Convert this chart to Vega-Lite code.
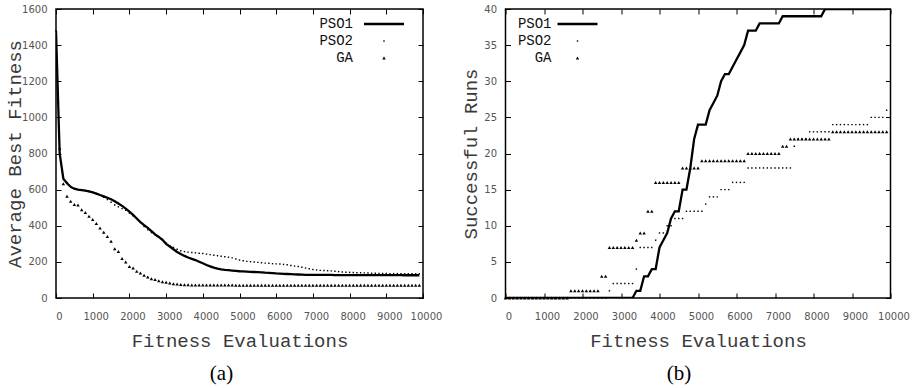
{
"$schema": "https://vega.github.io/schema/vega-lite/v6.json",
"padding": {"left": 4, "top": 3, "right": 0, "bottom": 0},
"config": {
  "view": {"stroke": "black", "strokeWidth": 1.5},
  "axis": {"labelFont": "DejaVu Sans", "labelFontSize": 10, "labelColor": "#555", "titleFont": "Liberation Mono", "titleFontSize": 19, "titleFontWeight": "normal", "titleColor": "#3a3a3a", "domain": false, "grid": false, "tickColor": "black", "tickSize": -5, "tickWidth": 1, "labelFlush": false, "labelOverlap": false, "format": "d"},
  "legend": {"labelFont": "Liberation Mono", "labelFontSize": 14, "labelColor": "#111", "labelAlign": "right", "padding": 0, "rowPadding": 3},
  "title": {"font": "Liberation Serif", "fontSize": 21, "fontWeight": "normal", "color": "black"}
},
"datasets": {
"a": [
{"e":0,"PSO1":1480,"PSO2":1480,"GA":null},
{"e":100,"PSO1":800,"PSO2":820,"GA":830},
{"e":200,"PSO1":660,"PSO2":680,"GA":633},
{"e":300,"PSO1":635,"PSO2":640,"GA":563},
{"e":400,"PSO1":615,"PSO2":615,"GA":535},
{"e":500,"PSO1":605,"PSO2":605,"GA":517},
{"e":600,"PSO1":600,"PSO2":600,"GA":515},
{"e":700,"PSO1":597,"PSO2":597,"GA":489},
{"e":800,"PSO1":594,"PSO2":594,"GA":474},
{"e":900,"PSO1":590,"PSO2":590,"GA":452},
{"e":1000,"PSO1":585,"PSO2":585,"GA":434},
{"e":1100,"PSO1":578,"PSO2":578,"GA":412},
{"e":1200,"PSO1":570,"PSO2":568,"GA":388},
{"e":1300,"PSO1":563,"PSO2":558,"GA":364},
{"e":1400,"PSO1":555,"PSO2":545,"GA":341},
{"e":1500,"PSO1":547,"PSO2":530,"GA":314},
{"e":1600,"PSO1":536,"PSO2":515,"GA":273},
{"e":1700,"PSO1":523,"PSO2":505,"GA":258},
{"e":1800,"PSO1":510,"PSO2":495,"GA":218},
{"e":1900,"PSO1":495,"PSO2":485,"GA":199},
{"e":2000,"PSO1":478,"PSO2":470,"GA":175},
{"e":2100,"PSO1":460,"PSO2":455,"GA":166},
{"e":2200,"PSO1":440,"PSO2":440,"GA":148},
{"e":2300,"PSO1":420,"PSO2":420,"GA":138},
{"e":2400,"PSO1":403,"PSO2":395,"GA":126},
{"e":2500,"PSO1":388,"PSO2":377,"GA":116},
{"e":2600,"PSO1":370,"PSO2":362,"GA":107},
{"e":2700,"PSO1":352,"PSO2":350,"GA":102},
{"e":2800,"PSO1":338,"PSO2":340,"GA":96},
{"e":2900,"PSO1":322,"PSO2":325,"GA":90},
{"e":3000,"PSO1":300,"PSO2":305,"GA":87},
{"e":3100,"PSO1":285,"PSO2":290,"GA":83},
{"e":3200,"PSO1":270,"PSO2":280,"GA":79},
{"e":3300,"PSO1":255,"PSO2":270,"GA":77},
{"e":3400,"PSO1":243,"PSO2":262,"GA":75},
{"e":3500,"PSO1":233,"PSO2":257,"GA":74},
{"e":3600,"PSO1":224,"PSO2":254,"GA":73},
{"e":3700,"PSO1":217,"PSO2":252,"GA":72},
{"e":3800,"PSO1":210,"PSO2":250,"GA":72},
{"e":3900,"PSO1":201,"PSO2":248,"GA":72},
{"e":4000,"PSO1":192,"PSO2":246,"GA":72},
{"e":4100,"PSO1":183,"PSO2":243,"GA":72},
{"e":4200,"PSO1":175,"PSO2":240,"GA":72},
{"e":4300,"PSO1":168,"PSO2":237,"GA":72},
{"e":4400,"PSO1":163,"PSO2":234,"GA":72},
{"e":4500,"PSO1":159,"PSO2":231,"GA":72},
{"e":4600,"PSO1":156,"PSO2":228,"GA":72},
{"e":4700,"PSO1":154,"PSO2":226,"GA":72},
{"e":4800,"PSO1":152,"PSO2":222,"GA":72},
{"e":4900,"PSO1":150,"PSO2":216,"GA":71},
{"e":5000,"PSO1":148,"PSO2":210,"GA":71},
{"e":5100,"PSO1":147,"PSO2":206,"GA":71},
{"e":5200,"PSO1":146,"PSO2":203,"GA":71},
{"e":5300,"PSO1":145,"PSO2":201,"GA":71},
{"e":5400,"PSO1":144,"PSO2":199,"GA":71},
{"e":5500,"PSO1":143,"PSO2":197,"GA":71},
{"e":5600,"PSO1":142,"PSO2":195,"GA":71},
{"e":5700,"PSO1":140,"PSO2":193,"GA":71},
{"e":5800,"PSO1":139,"PSO2":192,"GA":71},
{"e":5900,"PSO1":138,"PSO2":190,"GA":71},
{"e":6000,"PSO1":136,"PSO2":189,"GA":71},
{"e":6100,"PSO1":135,"PSO2":188,"GA":71},
{"e":6200,"PSO1":134,"PSO2":186,"GA":71},
{"e":6300,"PSO1":133,"PSO2":184,"GA":71},
{"e":6400,"PSO1":132,"PSO2":180,"GA":71},
{"e":6500,"PSO1":131,"PSO2":177,"GA":71},
{"e":6600,"PSO1":130,"PSO2":174,"GA":70},
{"e":6700,"PSO1":129,"PSO2":170,"GA":70},
{"e":6800,"PSO1":128,"PSO2":166,"GA":70},
{"e":6900,"PSO1":128,"PSO2":162,"GA":70},
{"e":7000,"PSO1":128,"PSO2":158,"GA":70},
{"e":7100,"PSO1":128,"PSO2":155,"GA":70},
{"e":7200,"PSO1":128,"PSO2":153,"GA":70},
{"e":7300,"PSO1":128,"PSO2":152,"GA":70},
{"e":7400,"PSO1":128,"PSO2":151,"GA":70},
{"e":7500,"PSO1":128,"PSO2":150,"GA":70},
{"e":7600,"PSO1":127,"PSO2":148,"GA":70},
{"e":7700,"PSO1":127,"PSO2":146,"GA":70},
{"e":7800,"PSO1":127,"PSO2":144,"GA":70},
{"e":7900,"PSO1":127,"PSO2":143,"GA":70},
{"e":8000,"PSO1":127,"PSO2":142,"GA":70},
{"e":8100,"PSO1":127,"PSO2":141,"GA":70},
{"e":8200,"PSO1":127,"PSO2":140,"GA":70},
{"e":8300,"PSO1":127,"PSO2":140,"GA":70},
{"e":8400,"PSO1":127,"PSO2":139,"GA":70},
{"e":8500,"PSO1":127,"PSO2":138,"GA":70},
{"e":8600,"PSO1":127,"PSO2":137,"GA":70},
{"e":8700,"PSO1":127,"PSO2":137,"GA":70},
{"e":8800,"PSO1":127,"PSO2":136,"GA":70},
{"e":8900,"PSO1":127,"PSO2":136,"GA":70},
{"e":9000,"PSO1":127,"PSO2":136,"GA":70},
{"e":9100,"PSO1":127,"PSO2":135,"GA":70},
{"e":9200,"PSO1":127,"PSO2":135,"GA":70},
{"e":9300,"PSO1":127,"PSO2":135,"GA":70},
{"e":9400,"PSO1":127,"PSO2":135,"GA":70},
{"e":9500,"PSO1":126,"PSO2":134,"GA":70},
{"e":9600,"PSO1":126,"PSO2":134,"GA":70},
{"e":9700,"PSO1":126,"PSO2":134,"GA":70},
{"e":9800,"PSO1":126,"PSO2":134,"GA":70},
{"e":9900,"PSO1":126,"PSO2":134,"GA":70}
],
"b": [
{"e":0,"PSO1":0,"PSO2":0,"GA":0},
{"e":100,"PSO1":0,"PSO2":0,"GA":0},
{"e":200,"PSO1":0,"PSO2":0,"GA":0},
{"e":300,"PSO1":0,"PSO2":0,"GA":0},
{"e":400,"PSO1":0,"PSO2":0,"GA":0},
{"e":500,"PSO1":0,"PSO2":0,"GA":0},
{"e":600,"PSO1":0,"PSO2":0,"GA":0},
{"e":700,"PSO1":0,"PSO2":0,"GA":0},
{"e":800,"PSO1":0,"PSO2":0,"GA":0},
{"e":900,"PSO1":0,"PSO2":0,"GA":0},
{"e":1000,"PSO1":0,"PSO2":0,"GA":0},
{"e":1100,"PSO1":0,"PSO2":0,"GA":0},
{"e":1200,"PSO1":0,"PSO2":0,"GA":0},
{"e":1300,"PSO1":0,"PSO2":0,"GA":0},
{"e":1400,"PSO1":0,"PSO2":0,"GA":0},
{"e":1500,"PSO1":0,"PSO2":0,"GA":0},
{"e":1600,"PSO1":0,"PSO2":0,"GA":0},
{"e":1700,"PSO1":0,"PSO2":0,"GA":1},
{"e":1800,"PSO1":0,"PSO2":0,"GA":1},
{"e":1900,"PSO1":0,"PSO2":0,"GA":1},
{"e":2000,"PSO1":0,"PSO2":0,"GA":1},
{"e":2100,"PSO1":0,"PSO2":0,"GA":1},
{"e":2200,"PSO1":0,"PSO2":0,"GA":1},
{"e":2300,"PSO1":0,"PSO2":0,"GA":1},
{"e":2400,"PSO1":0,"PSO2":0,"GA":1},
{"e":2500,"PSO1":0,"PSO2":0,"GA":3},
{"e":2600,"PSO1":0,"PSO2":0,"GA":3},
{"e":2700,"PSO1":0,"PSO2":1,"GA":7},
{"e":2800,"PSO1":0,"PSO2":2,"GA":7},
{"e":2900,"PSO1":0,"PSO2":2,"GA":7},
{"e":3000,"PSO1":0,"PSO2":2,"GA":7},
{"e":3100,"PSO1":0,"PSO2":2,"GA":7},
{"e":3200,"PSO1":0,"PSO2":2,"GA":7},
{"e":3300,"PSO1":0,"PSO2":2,"GA":7},
{"e":3400,"PSO1":1,"PSO2":4,"GA":8},
{"e":3500,"PSO1":1,"PSO2":7,"GA":9},
{"e":3600,"PSO1":3,"PSO2":7,"GA":9},
{"e":3700,"PSO1":3,"PSO2":7,"GA":12},
{"e":3800,"PSO1":4,"PSO2":7,"GA":12},
{"e":3900,"PSO1":4,"PSO2":8,"GA":16},
{"e":4000,"PSO1":7,"PSO2":9,"GA":16},
{"e":4100,"PSO1":8,"PSO2":9,"GA":16},
{"e":4200,"PSO1":9,"PSO2":10,"GA":16},
{"e":4300,"PSO1":11,"PSO2":10,"GA":16},
{"e":4400,"PSO1":12,"PSO2":11,"GA":16},
{"e":4500,"PSO1":12,"PSO2":11,"GA":16},
{"e":4600,"PSO1":15,"PSO2":11,"GA":18},
{"e":4700,"PSO1":15,"PSO2":12,"GA":18},
{"e":4800,"PSO1":18,"PSO2":12,"GA":18},
{"e":4900,"PSO1":22,"PSO2":12,"GA":18},
{"e":5000,"PSO1":24,"PSO2":12,"GA":18},
{"e":5100,"PSO1":24,"PSO2":12,"GA":19},
{"e":5200,"PSO1":24,"PSO2":13,"GA":19},
{"e":5300,"PSO1":26,"PSO2":14,"GA":19},
{"e":5400,"PSO1":27,"PSO2":14,"GA":19},
{"e":5500,"PSO1":28,"PSO2":14,"GA":19},
{"e":5600,"PSO1":30,"PSO2":15,"GA":19},
{"e":5700,"PSO1":31,"PSO2":15,"GA":19},
{"e":5800,"PSO1":31,"PSO2":15,"GA":19},
{"e":5900,"PSO1":32,"PSO2":16,"GA":19},
{"e":6000,"PSO1":33,"PSO2":16,"GA":19},
{"e":6100,"PSO1":34,"PSO2":16,"GA":19},
{"e":6200,"PSO1":35,"PSO2":16,"GA":19},
{"e":6300,"PSO1":37,"PSO2":18,"GA":20},
{"e":6400,"PSO1":37,"PSO2":18,"GA":20},
{"e":6500,"PSO1":37,"PSO2":18,"GA":20},
{"e":6600,"PSO1":38,"PSO2":18,"GA":20},
{"e":6700,"PSO1":38,"PSO2":18,"GA":20},
{"e":6800,"PSO1":38,"PSO2":18,"GA":20},
{"e":6900,"PSO1":38,"PSO2":18,"GA":20},
{"e":7000,"PSO1":38,"PSO2":18,"GA":20},
{"e":7100,"PSO1":38,"PSO2":18,"GA":20},
{"e":7200,"PSO1":39,"PSO2":18,"GA":21},
{"e":7300,"PSO1":39,"PSO2":18,"GA":21},
{"e":7400,"PSO1":39,"PSO2":18,"GA":22},
{"e":7500,"PSO1":39,"PSO2":21,"GA":22},
{"e":7600,"PSO1":39,"PSO2":22,"GA":22},
{"e":7700,"PSO1":39,"PSO2":22,"GA":22},
{"e":7800,"PSO1":39,"PSO2":22,"GA":22},
{"e":7900,"PSO1":39,"PSO2":23,"GA":22},
{"e":8000,"PSO1":39,"PSO2":23,"GA":22},
{"e":8100,"PSO1":39,"PSO2":23,"GA":22},
{"e":8200,"PSO1":39,"PSO2":23,"GA":22},
{"e":8300,"PSO1":40,"PSO2":23,"GA":22},
{"e":8400,"PSO1":40,"PSO2":23,"GA":22},
{"e":8500,"PSO1":40,"PSO2":24,"GA":23},
{"e":8600,"PSO1":40,"PSO2":24,"GA":23},
{"e":8700,"PSO1":40,"PSO2":24,"GA":23},
{"e":8800,"PSO1":40,"PSO2":24,"GA":23},
{"e":8900,"PSO1":40,"PSO2":24,"GA":23},
{"e":9000,"PSO1":40,"PSO2":24,"GA":23},
{"e":9100,"PSO1":40,"PSO2":24,"GA":23},
{"e":9200,"PSO1":40,"PSO2":24,"GA":23},
{"e":9300,"PSO1":40,"PSO2":24,"GA":23},
{"e":9400,"PSO1":40,"PSO2":24,"GA":23},
{"e":9500,"PSO1":40,"PSO2":25,"GA":23},
{"e":9600,"PSO1":40,"PSO2":25,"GA":23},
{"e":9700,"PSO1":40,"PSO2":25,"GA":23},
{"e":9800,"PSO1":40,"PSO2":25,"GA":23},
{"e":9900,"PSO1":40,"PSO2":26,"GA":23}
]
},
"spacing": 17.5,
"resolve": {"scale": {"x": "independent", "y": "independent", "shape": "independent", "size": "independent"}, "legend": {"shape": "independent", "size": "independent"}},
"hconcat": [
{
  "width": 367, "height": 289,
  "title": {"text": "(a)", "orient": "bottom", "anchor": "middle", "offset": 13, "dx": -18},
  "data": {"name": "a"},
  "resolve": {"axis": {"x": "independent", "y": "independent"}},
  "layer": [
    {
      "mark": {"type": "line", "color": "black", "strokeWidth": 2.3, "clip": true},
      "encoding": {
        "x": {"field": "e", "type": "quantitative", "scale": {"domain": [0, 10000], "nice": false},
              "axis": {"orient": "bottom", "values": [0,1000,2000,3000,4000,5000,6000,7000,8000,9000,10000], "labelPadding": 18, "labelOffset": 3, "title": "Fitness Evaluations", "titlePadding": 10}},
        "y": {"field": "PSO1", "type": "quantitative", "scale": {"domain": [0, 1600], "nice": false},
              "axis": {"orient": "left", "values": [0,200,400,600,800,1000,1200,1400,1600], "labelPadding": 14, "title": "Average Best Fitness", "titlePadding": -3}}
      }
    },
    {
      "transform": [{"fold": ["PSO2", "GA"], "as": ["series", "val"]}],
      "mark": {"type": "point", "filled": true, "color": "black", "opacity": 1},
      "encoding": {
        "x": {"field": "e", "type": "quantitative", "scale": {"domain": [0, 10000], "nice": false},
              "axis": {"orient": "top", "values": [0,1000,2000,3000,4000,5000,6000,7000,8000,9000,10000], "labels": false, "title": null}},
        "y": {"field": "val", "type": "quantitative", "scale": {"domain": [0, 1600], "nice": false},
              "axis": {"orient": "right", "values": [0,200,400,600,800,1000,1200,1400,1600], "labels": false, "title": null}},
        "shape": {"field": "series", "type": "nominal", "scale": {"type": "ordinal", "domain": ["PSO1", "PSO2", "GA"], "range": ["M-4,-0.23H4V0.23H-4Z", "square", "triangle-up"]},
                  "legend": {"title": null, "orient": "none", "legendX": 321, "legendY": 8, "labelOffset": -38}},
        "size": {"field": "series", "type": "nominal", "scale": {"type": "ordinal", "domain": ["PSO1", "PSO2", "GA"], "range": [100, 2, 12]},
                 "legend": {"title": null, "orient": "none", "legendX": 321, "legendY": 8, "labelOffset": -38}}
      }
    }
  ]
},
{
  "width": 385, "height": 289,
  "title": {"text": "(b)", "orient": "bottom", "anchor": "middle", "offset": 13, "dx": -19},
  "data": {"name": "b"},
  "resolve": {"axis": {"x": "independent", "y": "independent"}},
  "layer": [
    {
      "mark": {"type": "line", "color": "black", "strokeWidth": 2.3, "clip": true},
      "encoding": {
        "x": {"field": "e", "type": "quantitative", "scale": {"domain": [0, 10000], "nice": false},
              "axis": {"orient": "bottom", "values": [0,1000,2000,3000,4000,5000,6000,7000,8000,9000,10000], "labelPadding": 18, "labelOffset": 3, "title": "Fitness Evaluations", "titlePadding": 10}},
        "y": {"field": "PSO1", "type": "quantitative", "scale": {"domain": [0, 40], "nice": false},
              "axis": {"orient": "left", "values": [0,5,10,15,20,25,30,35,40], "labelPadding": 14, "title": "Successful Runs", "titlePadding": 3}}
      }
    },
    {
      "transform": [{"fold": ["PSO2", "GA"], "as": ["series", "val"]}],
      "mark": {"type": "point", "filled": true, "color": "black", "opacity": 1},
      "encoding": {
        "x": {"field": "e", "type": "quantitative", "scale": {"domain": [0, 10000], "nice": false},
              "axis": {"orient": "top", "values": [0,1000,2000,3000,4000,5000,6000,7000,8000,9000,10000], "labels": false, "title": null}},
        "y": {"field": "val", "type": "quantitative", "scale": {"domain": [0, 40], "nice": false},
              "axis": {"orient": "right", "values": [0,5,10,15,20,25,30,35,40], "labels": false, "title": null}},
        "shape": {"field": "series", "type": "nominal", "scale": {"type": "ordinal", "domain": ["PSO1", "PSO2", "GA"], "range": ["M-4,-0.23H4V0.23H-4Z", "square", "triangle-up"]},
                  "legend": {"title": null, "orient": "none", "legendX": 65, "legendY": 8, "labelOffset": -33}},
        "size": {"field": "series", "type": "nominal", "scale": {"type": "ordinal", "domain": ["PSO1", "PSO2", "GA"], "range": [100, 2, 12]},
                 "legend": {"title": null, "orient": "none", "legendX": 65, "legendY": 8, "labelOffset": -33}}
      }
    }
  ]
}
]
}
